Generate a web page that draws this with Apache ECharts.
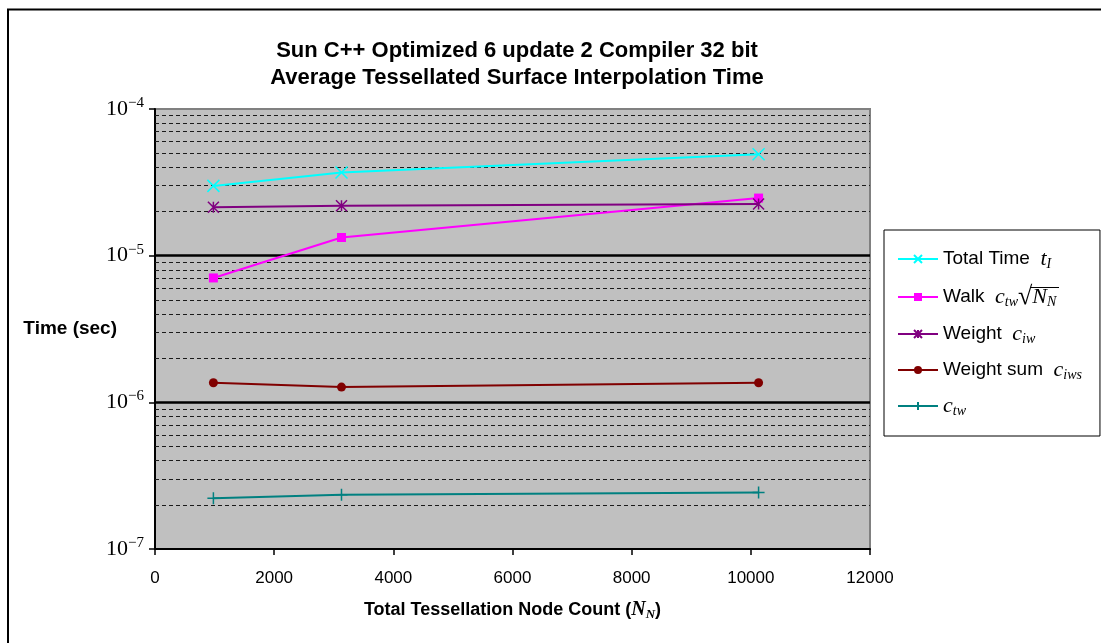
<!DOCTYPE html>
<html>
<head>
<meta charset="utf-8">
<script src="https://cdn.jsdelivr.net/npm/echarts@6/dist/echarts.min.js"></script>
<style>
html,body{margin:0;padding:0;background:#fff;}
#chart{width:1101px;height:643px;}
</style>
</head>
<body>
<div id="chart"></div>
<script>
// ---- data ----
var nodeCounts = [980, 3130, 10130];
var totalTime = [2.99e-5, 3.69e-5, 4.92e-5];
var walk = [7.05e-6, 1.33e-5, 2.47e-5];
var weight = [2.14e-5, 2.19e-5, 2.25e-5];
var weightSum = [1.36e-6, 1.27e-6, 1.36e-6];
var ctw = [2.22e-7, 2.34e-7, 2.43e-7];
var seriesNames = ['Total Time', 'Walk', 'Weight', 'Weight sum', 'ctw'];
var xTicks = [0, 2000, 4000, 6000, 8000, 10000, 12000];
var xMin = 0, xMax = 12000;
var majorGrid = [1e-6, 1e-5];
var minorMultipliers = [2, 3, 4, 5, 6, 7, 8, 9];

var minorGrid = [];
[-7, -6, -5].forEach(function (e) {
  minorMultipliers.forEach(function (m) { minorGrid.push(m * Math.pow(10, e)); });
});

function pairs(ys) { return nodeCounts.map(function (x, i) { return [x, ys[i]]; }); }

var serif = 'Liberation Serif';
var sans = 'Liberation Sans';

var legendRich = {
  t: { fontFamily: sans, fontSize: 19, color: '#000' },
  m: { fontFamily: serif, fontStyle: 'italic', fontSize: 22, color: '#000' },
  s: { fontFamily: serif, fontStyle: 'italic', fontSize: 14, color: '#000', padding: [10, 0, 0, 0] },
  r: { fontFamily: serif, fontSize: 26, color: '#000' }
};
var legendText = {
  'Total Time': '{t|Total Time  }{m|t}{s|I}',
  'Walk': '{t|Walk  }{m|c}{s|tw}{r|√}{m|N}{s|N}',
  'Weight': '{t|Weight  }{m|c}{s|iw}',
  'Weight sum': '{t|Weight sum  }{m|c}{s|iws}',
  'ctw': '{m|c}{s|tw}'
};

var symX = 'path://M0,0L10,10M10,0L0,10';
var symAst = 'path://M0,0L10,10M10,0L0,10M5,0L5,10';
var symPlus = 'path://M5,0L5,10M0,5L10,5';

function lineSeries(name, ys, color, symbol, size, stroke) {
  return {
    name: name, type: 'line', data: pairs(ys), z: 8,
    symbol: symbol, symbolSize: size,
    lineStyle: { color: color, width: 2 },
    itemStyle: stroke ? { color: 'none', borderColor: color, borderWidth: 1.5 } : { color: color },
    emphasis: { disabled: true },
    animation: false
  };
}

function hLine(v, style) {
  return [{ coord: [xMin, v], lineStyle: style }, { coord: [xMax, v] }];
}
var minorStyle = { color: '#1a1a1a', width: 1, type: [4, 3] };
var majorStyle = { color: '#000', width: 2.5, type: 'solid' };
var gridLineData = minorGrid.map(function (v) { return hLine(v, minorStyle); })
  .concat(majorGrid.map(function (v) { return hLine(v, majorStyle); }));

var series = [
  {
    name: 'gridlines', type: 'line', z: 3, zlevel: 0, silent: true,
    data: [[6000, 1e-5]], symbol: 'none', showSymbol: false,
    lineStyle: { width: 0 },
    markLine: {
      z: 3, silent: true, symbol: ['none', 'none'], animation: false,
      label: { show: false },
      emphasis: { disabled: true },
      data: gridLineData
    }
  },
  lineSeries('Total Time', totalTime, '#00FFFF', symX, 12, true),
  lineSeries('Walk', walk, '#FF00FF', 'rect', 9, false),
  lineSeries('Weight', weight, '#800080', symAst, 11, true),
  lineSeries('Weight sum', weightSum, '#800000', 'circle', 9, false),
  lineSeries('ctw', ctw, '#008080', symPlus, 12, true)
];

var chart = echarts.init(document.getElementById('chart'), null, { renderer: 'canvas' });
chart.setOption({
  animation: false,
  backgroundColor: '#fff',
  title: {
    text: 'Sun C++ Optimized 6 update 2 Compiler 32 bit\nAverage Tessellated Surface Interpolation Time',
    left: 512, top: 32, textAlign: 'center',
    textStyle: { fontFamily: sans, fontWeight: 'bold', fontSize: 22, lineHeight: 27, color: '#000' }
  },
  grid: {
    left: 155, top: 109, width: 715, height: 440,
    containLabel: false, outerBoundsMode: 'none',
    show: true, backgroundColor: '#C0C0C0', borderColor: '#808080', borderWidth: 2
  },
  legend: {
    orient: 'vertical', left: 884, top: 230,
    data: seriesNames,
    backgroundColor: '#fff', borderColor: '#000', borderWidth: 1, borderRadius: 0,
    padding: [18, 18, 18, 13],
    itemWidth: 40, itemHeight: 10, itemGap: 13,
    formatter: function (n) { return legendText[n]; },
    textStyle: { rich: legendRich, fontFamily: sans, fontSize: 19, color: '#000' },
    selectedMode: false
  },
  xAxis: {
    type: 'value', min: xMin, max: xMax, interval: 2000,
    axisLine: { show: true, lineStyle: { color: '#000', width: 2 } },
    axisTick: { show: true, length: 6, inside: false, lineStyle: { color: '#000', width: 1.5 } },
    splitLine: { show: false },
    axisLabel: {
      fontFamily: sans, fontSize: 17, color: '#000', margin: 21,
      formatter: function (v) { return String(v); }
    },
    name: '{b|Total Tessellation Node Count (}{i|N}{s|N}{b|)}',
    nameLocation: 'middle', nameGap: 50, nameMoveOverlap: false,
    nameTextStyle: {
      rich: {
        b: { fontFamily: sans, fontWeight: 'bold', fontSize: 18, color: '#000' },
        i: { fontFamily: serif, fontStyle: 'italic', fontWeight: 'bold', fontSize: 20, color: '#000' },
        s: { fontFamily: serif, fontStyle: 'italic', fontWeight: 'bold', fontSize: 13, color: '#000', padding: [9, 0, 0, 0] }
      }
    }
  },
  yAxis: {
    type: 'log', logBase: 10, min: 1e-7, max: 1e-4,
    axisLine: { show: true, onZero: false, lineStyle: { color: '#000', width: 2 } },
    axisTick: { show: true, length: 6, inside: false, lineStyle: { color: '#000', width: 1.5 } },
    splitLine: { show: false },
    minorTick: { show: false }, minorSplitLine: { show: false },
    axisLabel: {
      margin: 11,
      formatter: function (v) {
        var e = Math.round(Math.log10(v));
        return '{b|10}{s|\u2212' + Math.abs(e) + '}';
      },
      rich: {
        b: { fontFamily: serif, fontSize: 22, color: '#000' },
        s: { fontFamily: serif, fontSize: 15, color: '#000', padding: [0, 0, 12, 0] }
      }
    },
    name: 'Time (sec)', nameLocation: 'middle', nameRotate: 0, nameGap: 38, nameMoveOverlap: false,
    nameTextStyle: { fontFamily: sans, fontWeight: 'bold', fontSize: 19, color: '#000' }
  },
  graphic: [{
    type: 'rect', silent: true, z: 100,
    shape: { x: 8, y: 9.5, width: 1200, height: 1000 },
    style: { fill: 'none', stroke: '#000', lineWidth: 2 }
  }, {
    type: 'line', silent: true, z: 100,
    shape: { x1: 1031, y1: 287.5, x2: 1059, y2: 287.5 },
    style: { stroke: '#000', lineWidth: 1 }
  }],
  series: series
});
</script>
</body>
</html>
